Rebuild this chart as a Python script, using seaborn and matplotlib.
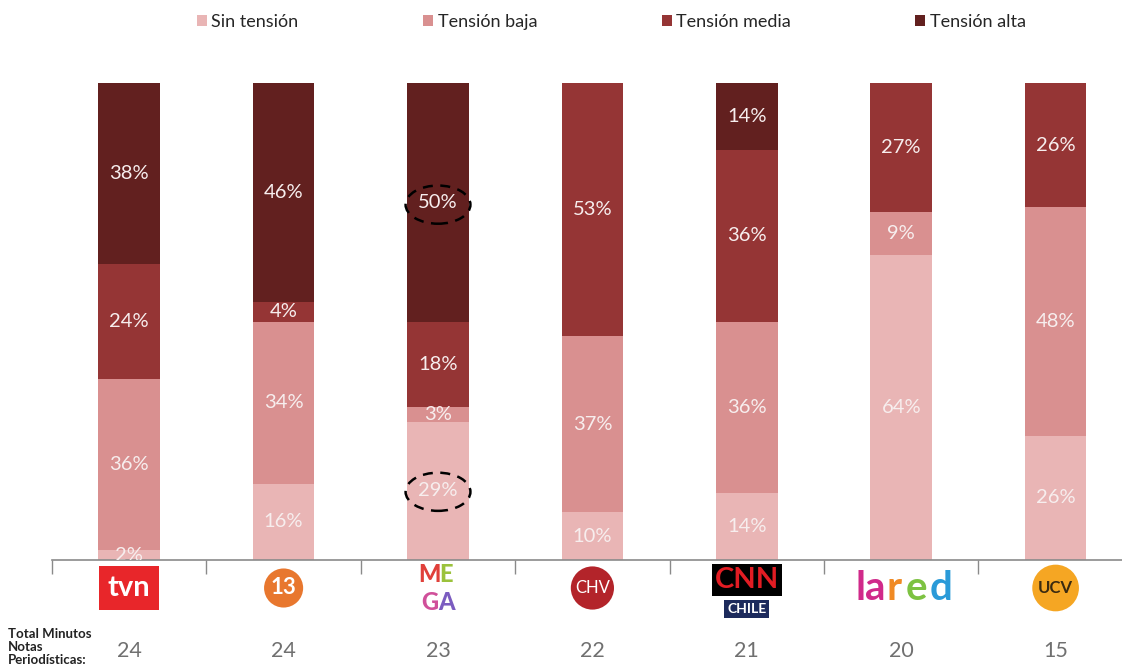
import numpy as np
import pandas as pd
import seaborn as sns
import matplotlib.pyplot as plt
from matplotlib.patches import Ellipse, Patch
from matplotlib.transforms import blended_transform_factory

# Datos
canales = ["TVN", "13", "MEGA", "CHV", "CNN", "LaRed", "UCV"]
sin_tension = [2, 16, 29, 10, 14, 64, 26]
tension_baja = [36, 34, 3, 37, 36, 9, 48]
tension_media = [24, 4, 18, 53, 36, 27, 26]
tension_alta = [38, 46, 50, 0, 14, 0, 0]
total_minutos = [24, 24, 23, 22, 21, 20, 15]

niveles = ["Sin tensión", "Tensión baja", "Tensión media", "Tensión alta"]
colores = ["#E9B5B5", "#D99090", "#953535", "#62201F"]

sns.set_theme(style="white")
plt.rcParams["font.family"] = ["Lato", "DejaVu Sans"]

df = pd.DataFrame({"canal": canales, niveles[0]: sin_tension, niveles[1]: tension_baja,
                   niveles[2]: tension_media, niveles[3]: tension_alta})
cum = df[niveles].cumsum(axis=1)

fig = plt.figure(figsize=(11.22, 6.72), dpi=100)
ax = fig.add_axes([52 / 1122, 1 - 560 / 672, 1 - 52 / 1122, 477 / 672])

# barras apiladas: dibujar acumulados desde arriba
for nivel, color in reversed(list(zip(niveles, colores))):
    sns.barplot(x=df["canal"], y=cum[nivel], order=canales, color=color,
                width=0.40, saturation=1, linewidth=0, ax=ax)

# etiquetas de porcentaje
for i in range(len(canales)):
    base = 0
    for nivel in niveles:
        v = df[nivel][i]
        if v > 0:
            ax.text(i, base + v / 2, f"{v}%", ha="center", va="center",
                    color="#F7EEEE", fontsize=14.5, clip_on=True)
        base += v

# elipses punteadas en MEGA
ax.add_patch(Ellipse((2, 29 + 3 + 18 + 25 - 0.5), 0.42, 8.0, fill=False,
                     ls=(0, (4, 3)), lw=1.8, ec="black", clip_on=False))
ax.add_patch(Ellipse((2, 14.3), 0.42, 8.0, fill=False,
                     ls=(0, (4, 3)), lw=1.8, ec="black", clip_on=False))

ax.set_xlim(-0.5, 6.43)
ax.set_ylim(0, 100)
ax.set_xlabel("")
ax.set_ylabel("")
ax.set_yticks([])
ax.set_xticks(np.arange(-0.5, 6, 1))
ax.set_xticklabels([])
ax.tick_params(axis="x", direction="out", length=10, color="#8A8A8A", width=1, bottom=True)
for s in ["top", "right", "left"]:
    ax.spines[s].set_visible(False)
ax.spines["bottom"].set_color("#8A8A8A")
ax.spines["bottom"].set_linewidth(1.2)

# logos (aproximados con texto)
tr = blended_transform_factory(ax.transData, fig.transFigure)
ly = 1 - 588 / 672
ax.text(0, ly, "tvn", transform=tr, ha="center", va="center", color="white",
        fontsize=21, fontweight="bold",
        bbox=dict(boxstyle="square,pad=0.3", fc="#E8262A", ec="none"))
ax.text(1, ly, "13", transform=tr, ha="center", va="center", color="white",
        fontsize=16, fontweight="bold",
        bbox=dict(boxstyle="circle,pad=0.3", fc="#E8772E", ec="none"))
mega = [("M", "#E0403A", -0.055, 0.02), ("E", "#9BC23C", 0.055, 0.02),
        ("G", "#D0509A", -0.055, -0.022), ("A", "#7B5CC0", 0.055, -0.022)]
for letra, c, dx, dy in mega:
    ax.text(2 + dx, ly + dy, letra, transform=tr, ha="center", va="center",
            color=c, fontsize=17, fontweight="black")
ax.text(3, ly, "CHV", transform=tr, ha="center", va="center", color="white",
        fontsize=12, bbox=dict(boxstyle="circle,pad=0.25", fc="#B3242A", ec="none"))
ax.text(4, ly + 0.012, "CNN", transform=tr, ha="center", va="center", color="#E21C23",
        fontsize=21, fontweight="bold",
        bbox=dict(boxstyle="square,pad=0.1", fc="black", ec="none"))
ax.text(4, ly - 0.031, "CHILE", transform=tr, ha="center", va="center", color="white",
        fontsize=10, fontweight="bold",
        bbox=dict(boxstyle="square,pad=0.2", fc="#1C2A5C", ec="none"))
lared = [("la", "#D02A8A", -0.2), ("r", "#F08A24", -0.045), ("e", "#7DC242", 0.1),
         ("d", "#2A9AD8", 0.26)]
for letra, c, dx in lared:
    ax.text(5 + dx, ly, letra, transform=tr, ha="center", va="center", color=c,
            fontsize=29, fontweight="bold")
ax.text(6, ly, "UCV", transform=tr, ha="center", va="center", color="#3A2A10",
        fontsize=12, fontweight="bold",
        bbox=dict(boxstyle="circle,pad=0.35", fc="#F5A623", ec="none"))

# totales
ny = 1 - 651 / 672
for i, t in enumerate(total_minutos):
    ax.text(i, ny, str(t), transform=tr, ha="center", va="center", color="#707070",
            fontsize=15.5)
fig.text(8 / 1122, 1 - 628 / 672, "Total Minutos\nNotas\nPeriodísticas:", ha="left",
         va="top", fontsize=9.5, fontweight="bold", color="#222222", linespacing=1.1)

# leyenda
handles = [Patch(fc=c, ec="none") for c in colores]
fig.legend(handles, niveles, loc="center", bbox_to_anchor=(0.545, 1 - 22 / 672), ncol=4,
           frameon=False, fontsize=13, handlelength=0.55, handleheight=0.55,
           handletextpad=0.25, columnspacing=6.9)

fig.savefig("out.png", dpi=100)
